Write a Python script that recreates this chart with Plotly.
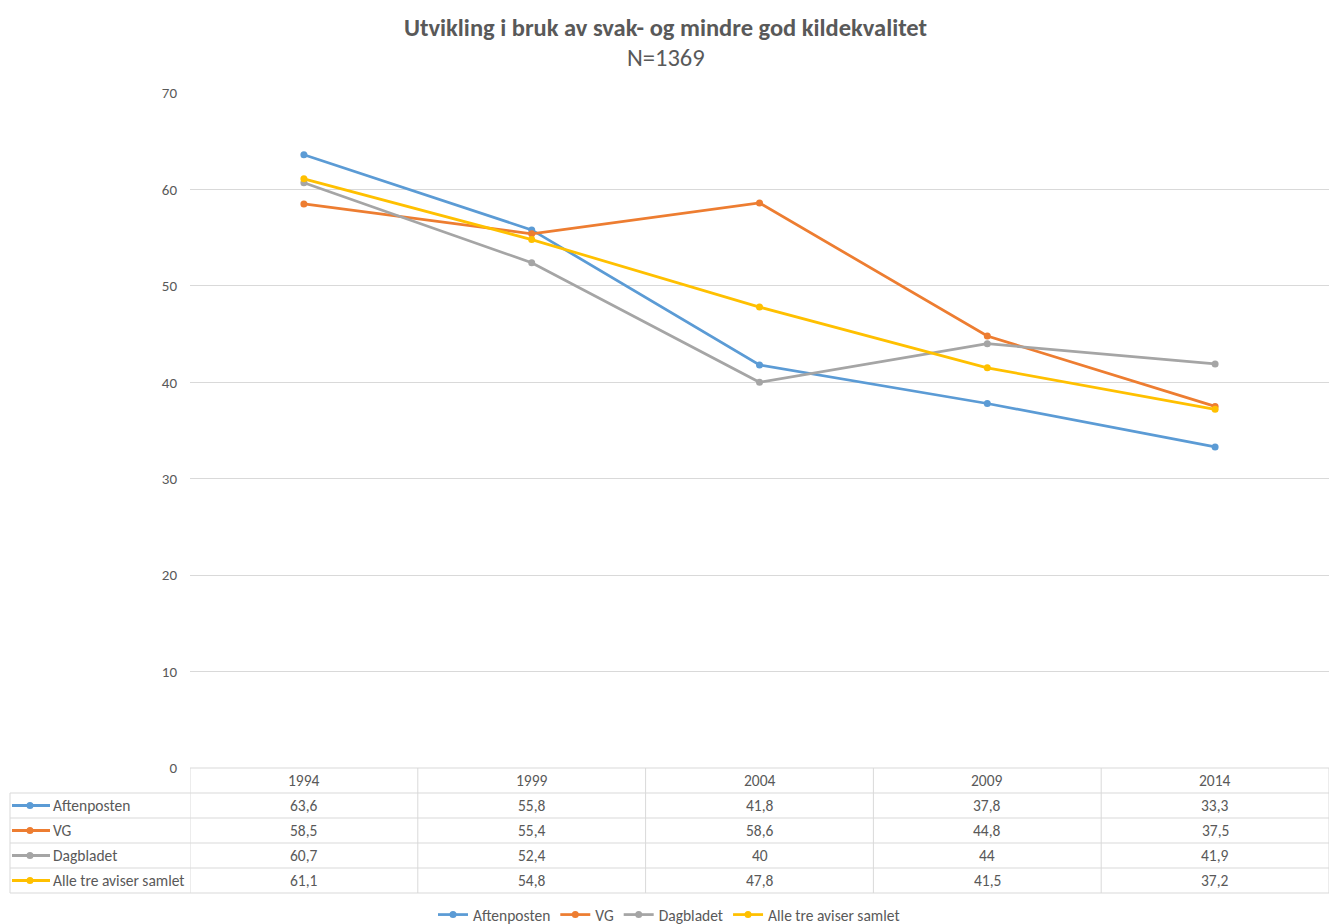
import plotly.graph_objects as go

years = ["1994", "1999", "2004", "2009", "2014"]
series_names = ["Aftenposten", "VG", "Dagbladet", "Alle tre aviser samlet"]
aftenposten = [63.6, 55.8, 41.8, 37.8, 33.3]
vg = [58.5, 55.4, 58.6, 44.8, 37.5]
dagbladet = [60.7, 52.4, 40, 44, 41.9]
alle_tre = [61.1, 54.8, 47.8, 41.5, 37.2]
y_ticks = [0, 10, 20, 30, 40, 50, 60, 70]

colors = ["#5B9BD5", "#ED7D31", "#A5A5A5", "#FFC000"]
values = [aftenposten, vg, dagbladet, alle_tre]

FONT = "Calibri, Carlito, Lato, sans-serif"
TEXT = "#595959"
GRID = "#D9D9D9"
FS = 15
TS = 15.5  # table / legend text

W, H = 1329, 924
L, R, T, B = 190, 0, 93, 156
plot_w = W - L - R
plot_h = H - T - B
row_h = 25 / plot_h


def fmt(v):
    return f"{v:g}".replace(".", ",")


def px_x(px):
    return (px - L) / plot_w


def px_y(py):
    return (H - B - py) / plot_h


fig = go.Figure()
for name, vals, col in zip(series_names, values, colors):
    fig.add_trace(go.Scatter(
        x=years, y=vals, name=name, mode="lines+markers",
        line=dict(color=col, width=2.75),
        marker=dict(color=col, size=7),
    ))

shapes = []
annotations = []
line_style = dict(color=GRID, width=1)

# table horizontal lines
for i in range(6):
    y = -i * row_h
    x_start = 0 if i == 0 else px_x(10)
    shapes.append(dict(type="line", xref="paper", yref="paper",
                       x0=x_start, x1=1, y0=y, y1=y, line=line_style))
# vertical lines
for k in range(len(years) + 1):
    shapes.append(dict(type="line", xref="x", yref="paper",
                       x0=k - 0.5, x1=k - 0.5, y0=0, y1=-5 * row_h, line=line_style))
shapes.append(dict(type="line", xref="paper", yref="paper",
                   x0=px_x(10), x1=px_x(10), y0=-row_h, y1=-5 * row_h, line=line_style))

# header row
for i, yr in enumerate(years):
    annotations.append(dict(x=i, xref="x", y=-0.5 * row_h, yref="paper",
                            yanchor="middle", xanchor="center",
                            text=yr, showarrow=False,
                            font=dict(size=TS, color=TEXT, family=FONT)))

# data rows
for r, (name, vals, col) in enumerate(zip(series_names, values, colors)):
    yc = -(r + 1.5) * row_h
    shapes.append(dict(type="line", xref="paper", yref="paper",
                       x0=px_x(12), x1=px_x(50), y0=yc, y1=yc,
                       line=dict(color=col, width=3)))
    shapes.append(dict(type="circle", xref="paper", yref="paper",
                       xsizemode="pixel", ysizemode="pixel",
                       xanchor=px_x(30), yanchor=yc,
                       x0=-3.5, x1=3.5, y0=-3.5, y1=3.5,
                       fillcolor=col, line=dict(color=col, width=0)))
    annotations.append(dict(x=px_x(51), xref="paper", xanchor="left",
                            y=yc, yref="paper", yanchor="middle",
                            text=name, showarrow=False,
                            font=dict(size=TS, color=TEXT, family=FONT)))
    for i, v in enumerate(vals):
        annotations.append(dict(x=i, xref="x", y=yc, yref="paper",
                                xanchor="center", yanchor="middle",
                                text=fmt(v), showarrow=False,
                                font=dict(size=TS, color=TEXT, family=FONT)))

# title and subtitle
annotations.append(dict(x=px_x(666), xref="paper", xanchor="center",
                        y=px_y(28), yref="paper", yanchor="middle",
                        text="<b>Utvikling i bruk av svak- og mindre god kildekvalitet</b>",
                        showarrow=False, font=dict(size=24.5, color=TEXT, family=FONT)))
annotations.append(dict(x=px_x(666), xref="paper", xanchor="center",
                        y=px_y(58), yref="paper", yanchor="middle",
                        text="N=1369",
                        showarrow=False, font=dict(size=24.5, color=TEXT, family=FONT)))

fig.update_layout(
    width=W, height=H,
    margin=dict(l=L, r=R, t=T, b=B, autoexpand=False),
    paper_bgcolor="white", plot_bgcolor="white",
    font=dict(family=FONT, color=TEXT, size=FS),
    xaxis=dict(type="category", range=[-0.5, 4.5], showticklabels=False,
               showgrid=False, zeroline=False, showline=False, fixedrange=True),
    yaxis=dict(range=[0, 70], tickvals=y_ticks, gridcolor=GRID, gridwidth=1,
               zeroline=False, showline=False, ticklabelstandoff=12,
               tickfont=dict(size=FS, color=TEXT, family=FONT)),
    legend=dict(orientation="h", xref="paper", yref="paper",
                x=px_x(669), xanchor="center", y=px_y(915), yanchor="middle",
                bgcolor="rgba(0,0,0,0)",
                font=dict(size=TS, color=TEXT, family=FONT),
                tracegroupgap=0),
    shapes=shapes,
    annotations=annotations,
    showlegend=True,
)

fig.write_html("out.html", config={"displayModeBar": False},
               post_script="document.body.style.margin='0';")
